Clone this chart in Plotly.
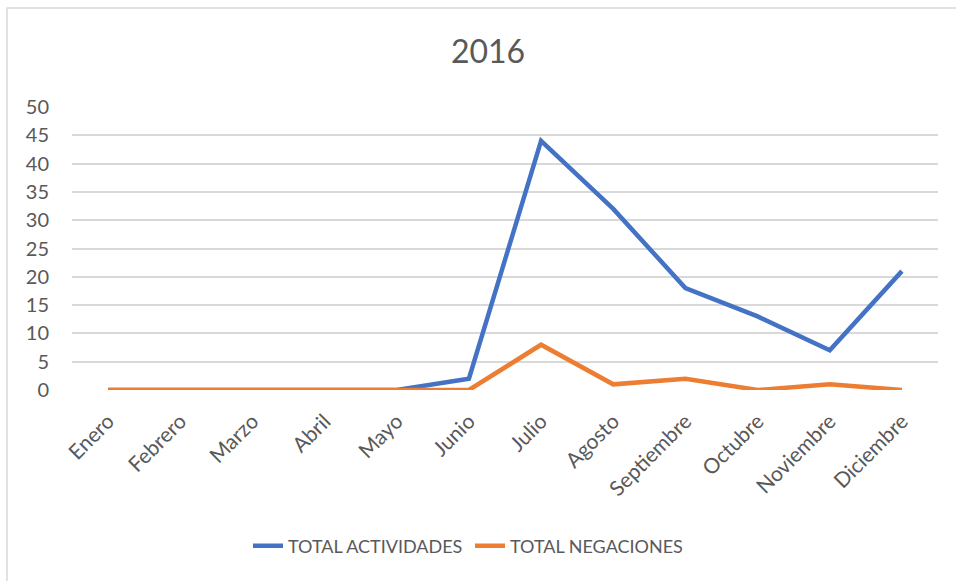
import plotly.graph_objects as go

meses = ["Enero", "Febrero", "Marzo", "Abril", "Mayo", "Junio", "Julio",
         "Agosto", "Septiembre", "Octubre", "Noviembre", "Diciembre"]
total_actividades = [0, 0, 0, 0, 0, 2, 44, 32, 18, 13, 7, 21]
total_negaciones = [0, 0, 0, 0, 0, 0, 8, 1, 2, 0, 1, 0]

fuente = "Lato"
gris = "#595959"

fig = go.Figure()
fig.add_trace(go.Scatter(x=meses, y=total_actividades, mode="lines",
                         name="TOTAL ACTIVIDADES",
                         line=dict(color="#4472C4", width=4.5)))
fig.add_trace(go.Scatter(x=meses, y=total_negaciones, mode="lines",
                         name="TOTAL NEGACIONES",
                         line=dict(color="#ED7D31", width=4.5)))

W, H = 956, 581
ml, mr, mt, mb = 72, 18, 107, 191
pw, ph = W - ml - mr, H - mt - mb

def px_x(x):
    return (x - ml) / pw

def px_y(y):
    return (H - mb - y) / ph

# marco del grafico (solo se ven los bordes superior e izquierdo)
fig.add_shape(type="rect", xref="paper", yref="paper",
              x0=px_x(7), x1=px_x(980), y0=px_y(600), y1=px_y(8),
              line=dict(color="#d9d9d9", width=1.5), layer="below")

fig.update_layout(
    width=W, height=H,
    margin=dict(l=ml, r=mr, t=mt, b=mb, autoexpand=False),
    paper_bgcolor="white", plot_bgcolor="white",
    font=dict(family=fuente, color=gris, size=18),
    title=dict(text="2016", x=488 / W, xanchor="center", y=1 - 52 / H, yanchor="middle",
               font=dict(size=32, color=gris, family=fuente)),
    showlegend=True,
    legend=dict(orientation="h", xref="container", x=248 / W, xanchor="left",
                y=px_y(546), yanchor="middle", entrywidth=177, entrywidthmode="pixels",
                font=dict(size=18, color=gris)),
    xaxis=dict(range=[-0.5, 11.5], tickangle=-45, showgrid=False, zeroline=False,
               showline=False, ticks="", automargin=False, ticklabelstandoff=14,
               tickfont=dict(size=21, color=gris)),
    yaxis=dict(range=[0, 50], dtick=5, showgrid=True, gridcolor="#d9d9d9", gridwidth=1.5,
               zeroline=False, showline=False, ticks="", automargin=False,
               ticklabelstandoff=22, tickfont=dict(size=20, color=gris)),
)

fig.write_html("out.html", config={"displayModeBar": False},
               post_script="document.body.style.margin='0px';")
